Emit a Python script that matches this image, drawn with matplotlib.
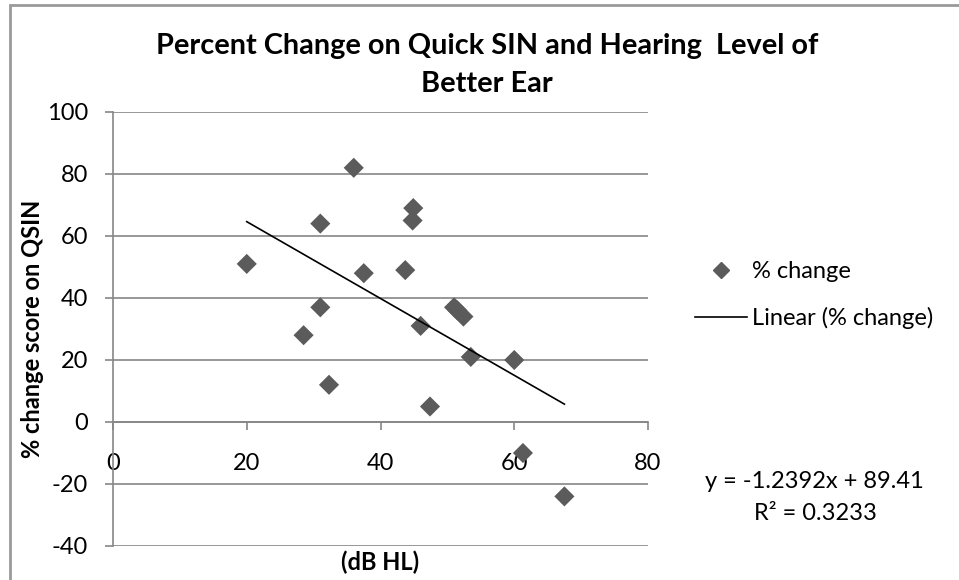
import numpy as np
import matplotlib
matplotlib.use("Agg")
import matplotlib.pyplot as plt
from matplotlib.lines import Line2D
from matplotlib.patches import Rectangle

plt.rcParams['font.family'] = ['Lato', 'DejaVu Sans']
plt.rcParams['axes.unicode_minus'] = False

# hearing level of better ear (dB HL) and % change on QSIN
hearing_level = [20, 28.5, 31, 31, 32.3, 36, 37.5, 43.7, 44.8, 44.9,
                 46, 47.4, 51, 51.5, 52.4, 53.5, 60, 61.3, 67.5]
pct_change = [51, 28, 64, 37, 12, 82, 48, 49, 65, 69,
              31, 5, 37, 36, 34, 21, 20, -10, -24]

# trendline as reported on the chart
slope = -1.2392
intercept = 89.41
r_squared = 0.3233

x_ticks = [0, 20, 40, 60, 80]
y_ticks = [-40, -20, 0, 20, 40, 60, 80, 100]

W, H = 959, 580
fig = plt.figure(figsize=(W / 100, H / 100), dpi=100)
ax = fig.add_axes([113 / W, 1 - 546 / H, 535 / W, 434 / H])

grid_col = '#868686'
marker_col = '#5b5b5b'
fs = 17

# chart area border (cropped on right/bottom)
fig.add_artist(Rectangle((10 / W, -0.2), 1.2, 1.2 - 4.5 / H,
                         transform=fig.transFigure, fill=False,
                         edgecolor='#9a9a9a', lw=2.0))

for yv in y_ticks:
    ax.axhline(yv, color=grid_col, lw=1.2, zorder=1)

ax.scatter(hearing_level, pct_change, marker='D', s=105, color=marker_col,
           edgecolors='none', zorder=3)

xs = np.array([min(hearing_level), max(hearing_level)])
ax.plot(xs, slope * xs + intercept, color='black', lw=1.2, zorder=4)

ax.set_xlim(0, 80)
ax.set_ylim(-40, 100)
ax.set_xticks(x_ticks)
ax.set_yticks(y_ticks)

for s in ['top', 'right']:
    ax.spines[s].set_visible(False)
ax.spines['left'].set_color(grid_col)
ax.spines['left'].set_linewidth(1.2)
ax.spines['bottom'].set_position(('data', 0))
ax.spines['bottom'].set_color(grid_col)
ax.spines['bottom'].set_linewidth(1.2)

ax.tick_params(axis='both', colors=grid_col, labelcolor='black',
               labelsize=fs, length=6, width=1.2, direction='out')
ax.tick_params(axis='x', pad=16)
ax.tick_params(axis='y', pad=12)

ax.set_ylabel('% change score on QSIN', fontsize=fs, fontweight='bold')
ax.yaxis.set_label_coords((33 - 113) / 535, 0.5)
ax.yaxis.label.set_va('center')
ax.set_xlabel('(dB HL)', fontsize=fs, fontweight='bold')
ax.xaxis.set_label_coords(0.5, (546 - 562) / 434)
ax.xaxis.label.set_va('center')

fig.text(487 / W, 1 - 46 / H,
         'Percent Change on Quick SIN and Hearing  Level of',
         ha='center', va='center', fontsize=20.8, fontweight='bold')
fig.text(487 / W, 1 - 84 / H, 'Better Ear',
         ha='center', va='center', fontsize=20.8, fontweight='bold')

handles = [Line2D([], [], marker='D', ls='none', color=marker_col, ms=8),
           Line2D([], [], color='black', lw=1.2)]
fig.legend(handles, ['% change', 'Linear (% change)'],
           loc='upper left', bbox_to_anchor=(695 / W, 1 - 261 / H),
           bbox_transform=fig.transFigure, frameon=False, fontsize=fs,
           handlelength=2.2, handletextpad=0.22, labelspacing=1.07,
           borderpad=0, borderaxespad=0)

fig.text(814 / W, 1 - 482 / H, f'y = {slope}x + {intercept}',
         ha='center', va='center', fontsize=fs)
fig.text(815 / W, 1 - 513 / H, f'R² = {r_squared}',
         ha='center', va='center', fontsize=fs)

fig.savefig('out.png', dpi=100)
